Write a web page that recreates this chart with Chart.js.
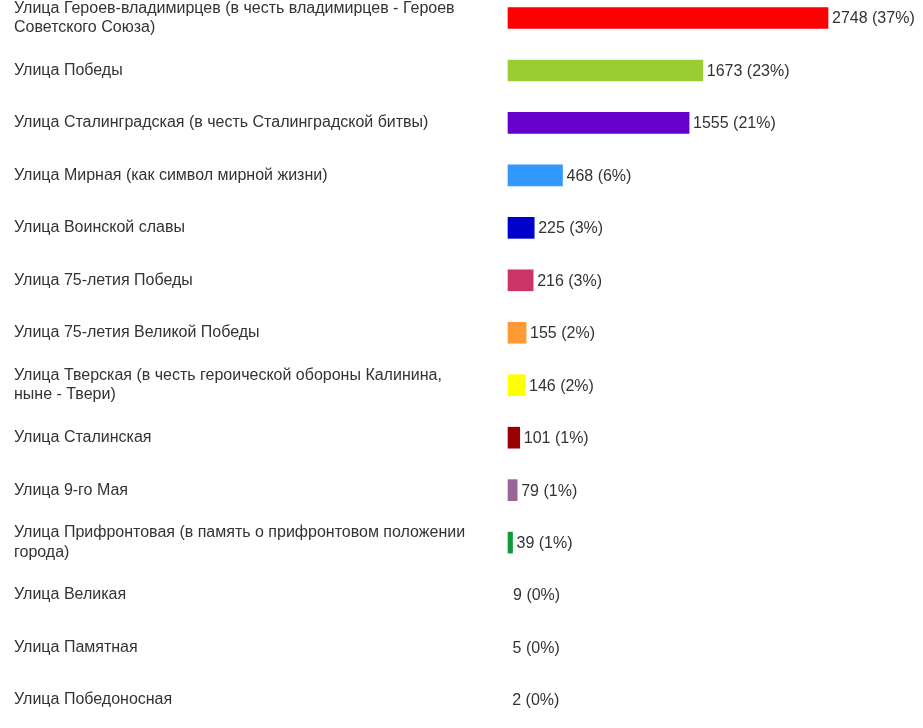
<!DOCTYPE html>
<html>
<head>
<meta charset="utf-8">
<script src="https://cdn.jsdelivr.net/npm/chart.js@4"></script>
<style>
  html, body { margin: 0; padding: 0; background: #fff; }
  #wrap { width: 923px; height: 728px; position: relative; }
</style>
</head>
<body>
<div id="wrap"><canvas id="barChart"></canvas></div>
<script>
// ── Data ───────────────────────────────────────────
const streetLabels = [
  ['Улица Героев-владимирцев (в честь владимирцев - Героев', 'Советского Союза)'],
  'Улица Победы',
  'Улица Сталинградская (в честь Сталинградской битвы)',
  'Улица Мирная (как символ мирной жизни)',
  'Улица Воинской славы',
  'Улица 75-летия Победы',
  'Улица 75-летия Великой Победы',
  ['Улица Тверская (в честь героической обороны Калинина,', 'ныне - Твери)'],
  'Улица Сталинская',
  'Улица 9-го Мая',
  ['Улица Прифронтовая (в память о прифронтовом положении', 'города)'],
  'Улица Великая',
  'Улица Памятная',
  'Улица Победоносная',
];
const voteCounts = [2748, 1673, 1555, 468, 225, 216, 155, 146, 101, 79, 39, 9, 5, 2];
const votePercents = [37, 23, 21, 6, 3, 3, 2, 2, 1, 1, 1, 0, 0, 0];
const barColors = [
  '#ff0000', '#9acd32', '#6600cc', '#3399ff', '#0000cc', '#cc3366', '#ff9933',
  '#ffff00', '#990000', '#996699', '#0f9a3a', 'rgba(0,0,0,0)', 'rgba(0,0,0,0)', 'rgba(0,0,0,0)',
];

const FONT = '"Liberation Sans", Arial, sans-serif';

// ── Value labels after each bar ────────────────────
const valueLabels = {
  id: 'valueLabels',
  afterDatasetsDraw(chart) {
    const { ctx } = chart;
    const meta = chart.getDatasetMeta(0);
    ctx.save();
    ctx.font = '16px ' + FONT;
    ctx.fillStyle = '#333';
    ctx.textAlign = 'left';
    ctx.textBaseline = 'middle';
    meta.data.forEach((bar, i) => {
      ctx.fillText(`${voteCounts[i]} (${votePercents[i]}%)`, bar.x + 4, bar.y + 1);
    });
    ctx.restore();
  },
};

new Chart(document.getElementById('barChart'), {
  type: 'bar',
  data: {
    labels: streetLabels,
    datasets: [
      {
        data: voteCounts,
        backgroundColor: barColors,
        borderWidth: 0,
        barThickness: 21,
        clip: false,
      },
    ],
  },
  options: {
    indexAxis: 'y',
    responsive: true,
    maintainAspectRatio: false,
    animation: false,
    layout: { padding: { left: 14, right: 95, top: 18, bottom: 28 } },
    plugins: {
      legend: { display: false },
      tooltip: { enabled: false },
    },
    scales: {
      x: {
        display: false,
        min: 0,
        max: Math.max(...voteCounts),
      },
      y: {
        offset: false,
        grid: { display: false, drawTicks: false },
        border: { display: false },
        ticks: {
          crossAlign: 'far',
          padding: 0,
          color: '#333',
          autoSkip: false,
          font: { family: FONT, size: 16, lineHeight: 1.2 },
        },
        afterFit: (scale) => { scale.width = 494; },
      },
    },
  },
  plugins: [valueLabels],
});
</script>
</body>
</html>
